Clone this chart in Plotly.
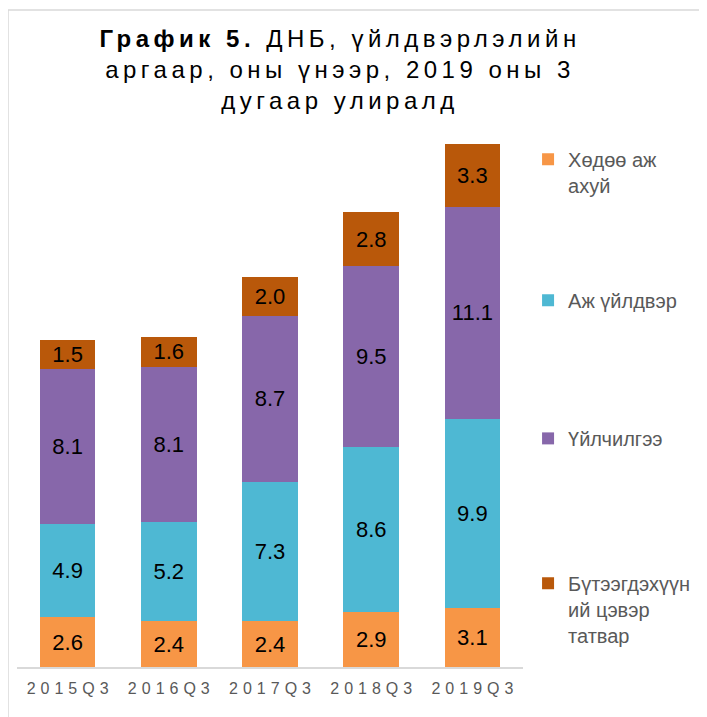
import plotly.graph_objects as go

quarters = ['2015Q3', '2016Q3', '2017Q3', '2018Q3', '2019Q3']
agriculture = [2.6, 2.4, 2.4, 2.9, 3.1]
industry = [4.9, 5.2, 7.3, 8.6, 9.9]
services = [8.1, 8.1, 8.7, 9.5, 11.1]
net_taxes = [1.5, 1.6, 2.0, 2.8, 3.3]

series = [
    ('Хөдөө аж<br>ахуй', agriculture, '#F79646', 'legend2'),
    ('Аж үйлдвэр', industry, '#4EB8D3', 'legend3'),
    ('Үйлчилгээ', services, '#8767AA', 'legend4'),
    ('Бүтээгдэхүүн<br>ий цэвэр<br>татвар', net_taxes, '#B9580A', 'legend5'),
]

fig = go.Figure()
for name, values, color, legend in series:
    fig.add_trace(go.Bar(
        x=quarters, y=values, name=name, legend=legend,
        marker=dict(color=color, line=dict(color=color, width=0)),
        texttemplate='%{y:.1f}', textposition='inside',
        insidetextanchor='middle',
        textfont=dict(size=22, color='black', family='Liberation Sans'),
    ))


def legend_at(y):
    return dict(x=1.010, y=y, xanchor='left', yanchor='top', valign='top',
                bgcolor='rgba(0,0,0,0)',
                font=dict(size=20, color='#595959', family='Liberation Sans'))


# the page body adds an 8px margin, so the figure is 8px smaller than the window
spaced = '<span style="letter-spacing:{}px">{}</span>'
title = ('<b>' + spaced.format(4.5, 'График 5.') + '</b>'
         + spaced.format(4.5, ' ДНБ, үйлдвэрлэлийн') + '<br>'
         + spaced.format(4.5, 'аргаар, оны үнээр, 2019 оны 3') + '<br>'
         + spaced.format(4.5, 'дугаар улиралд'))

fig.update_layout(
    width=699, height=709,
    margin=dict(l=9, r=184, t=86, b=50, autoexpand=False),
    paper_bgcolor='white', plot_bgcolor='white',
    barmode='stack', bargap=0.45,
    font=dict(family='Liberation Sans'),
    uniformtext=dict(minsize=22, mode='show'),
    title=dict(text=title, x=0.475, xanchor='center', y=0.945, yanchor='top',
               font=dict(size=24, color='black', family='Liberation Sans')),
    legend2=legend_at(0.920),
    legend3=legend_at(0.674),
    legend4=legend_at(0.433),
    legend5=legend_at(0.180),
    xaxis=dict(showline=True, linecolor='#D9D9D9', linewidth=2, ticks='',
               ticklabelstandoff=6,
               tickmode='array', tickvals=quarters,
               ticktext=[spaced.format(5, q[:-1]) + q[-1] for q in quarters],
               tickfont=dict(size=16, color='#595959')),
    yaxis=dict(range=[0, 30], visible=False, showgrid=False),
    shapes=[dict(type='rect', xref='paper', yref='paper',
                 x0=-0.0178, x1=1.5, y0=-0.2, y1=1.1466,
                 line=dict(color='#D9D9D9', width=1.5))],
)

fig.write_html('out.html')
